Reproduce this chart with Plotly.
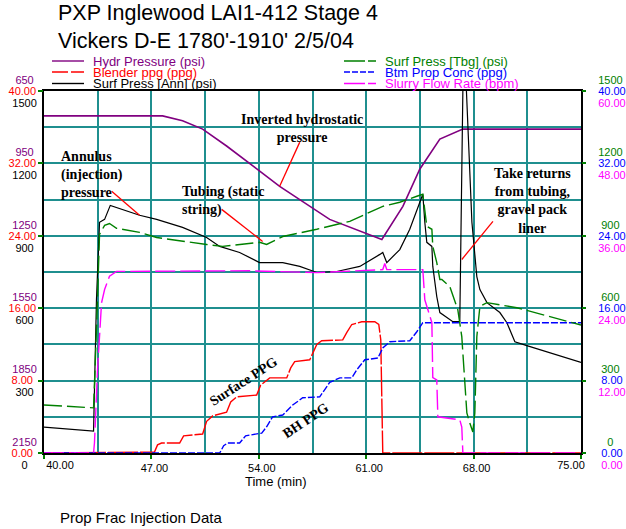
import plotly.graph_objects as go

# ---------------- data ----------------
hydr_t = [40.0, 47.73, 49.03, 50.34, 51.90, 53.21, 54.06, 55.36, 58.62, 62.02, 63.39, 64.49, 65.80, 67.30, 75.0]
hydr_psi = [753, 753, 773, 808, 878, 941, 982, 1045, 1182, 1265, 1128, 974, 849, 808, 808]

blender_t = [40.0, 47.2, 47.40, 47.66, 48.84, 49.10, 50.34, 50.60, 50.99, 51.90, 52.17, 52.56, 53.86, 54.12,
             54.71, 55.82, 56.08, 56.34, 57.32, 57.78, 58.10, 59.47, 59.73, 60.06, 60.71, 61.56, 61.82,
             61.95, 62.08, 75.0]
blender_ppg = [0, 0.1, 0.9, 1.1, 1.1, 1.9, 2.1, 3.5, 4.1, 4.5, 5.65, 6.2, 6.4, 7.5,
               8.3, 8.3, 9.4, 10.1, 10.3, 12.0, 12.4, 12.5, 13.3, 14.2, 14.5, 14.5, 14.2,
               12.5, 0, 0]

ann_t = [40.0, 43.23, 43.42, 43.62, 43.95, 44.32, 46.23, 47.34, 49.03, 50.60, 51.45, 52.75, 54.05, 55.56,
         56.67, 57.78, 59.08, 60.58, 61.89, 62.08, 62.34, 63.19, 63.84, 64.69, 64.82, 64.95, 65.28,
         65.34, 65.60, 65.80, 66.65, 67.10, 67.30, 67.40, 67.50, 67.89, 68.21, 68.41, 68.87, 69.71,
         70.17, 70.69, 71.47, 72.97, 75.0]
ann_psi = [107, 91, 636, 956, 968, 1026, 985, 968, 935, 893, 856, 831, 789, 789,
           773, 748, 752, 773, 823, 831, 789, 843, 927, 1072, 956, 873, 856,
           773, 648, 582, 544, 544, 1500, 1620, 1550, 956, 731, 677, 623, 582,
           540, 461, 445, 416, 375]

tbg_t = [40.0, 43.23, 43.42, 43.62, 43.95, 44.27, 44.73, 46.23, 47.34, 49.03, 50.60, 51.64, 52.75, 54.05,
         54.51, 55.56, 57.78, 59.93, 62.08, 63.19, 64.30, 64.69, 64.95, 65.28, 65.34, 65.60, 65.80,
         65.93, 66.45, 66.97, 67.23, 67.43, 67.56, 67.75, 67.95, 68.08, 68.21, 68.41, 68.87, 70.82,
         72.97, 75.0]
tbg_psi = [199, 187, 511, 906, 943, 951, 931, 914, 893, 877, 864, 856, 864, 873,
           864, 897, 927, 960, 1022, 1039, 1064, 1072, 939, 927, 856, 789, 719,
           719, 690, 594, 482, 274, 166, 125, 87, 166, 482, 607, 623, 602,
           565, 530]

btm_t = [40.0, 51.45, 51.71, 51.97, 52.75, 53.14, 54.19, 54.51, 54.90, 55.56, 56.21, 56.86, 57.97, 58.62,
         59.28, 60.06, 60.39, 60.91, 61.76, 62.08, 62.54, 63.84, 64.30, 64.69, 75.0]
btm_ppg = [0, 0, 0.8, 1.1, 1.1, 1.9, 2.2, 2.9, 4.0, 4.2, 5.3, 6.1, 6.2, 7.8,
           8.3, 8.3, 9.2, 10.3, 10.5, 11.6, 12.3, 12.4, 13.4, 14.4, 14.4]

slurry_t = [40.0, 43.23, 43.29, 43.49, 43.75, 43.95, 44.27, 44.73, 53.40, 57.78, 62.08, 62.21, 62.34, 64.69,
            64.82, 65.28, 65.34, 65.60, 65.67, 67.10, 67.23, 67.30, 75.0]
slurry_bpm = [0, 0, 1.7, 13.8, 24.9, 27.1, 29.3, 30.1, 30.2, 29.9, 30.4, 31.4, 30.4, 30.4,
              25.4, 21.6, 12.5, 12.1, 6.0, 5.5, 4.3, 0, 0]

x_ticks = [40, 47, 54, 61, 68, 75]
ppg_ticks = [0, 8, 16, 24, 32, 40]
hydr_ticks = [650, 950, 1250, 1550, 1850, 2150]
psi_ticks = [0, 300, 600, 900, 1200, 1500]
slurry_ticks = [0, 12, 24, 36, 48, 60]

title_lines = ["PXP Inglewood LAI1-412 Stage 4", "Vickers D-E 1780'-1910' 2/5/04"]
series_names = ["Hydr Pressure (psi)", "Blender ppg (ppg)", "Surf Press [Ann] (psi)",
                "Surf Press [Tbg] (psi)", "Btm Prop Conc (ppg)", "Slurry Flow Rate (bpm)"]

# ---------------- style ----------------
PURPLE, RED, BLACK = "#800080", "#FF0000", "#000000"
GREEN, BLUE, MAGENTA = "#008000", "#0000FF", "#FF00FF"
GRID = "#1F8F8F"
SANS = "Arial, Liberation Sans, sans-serif"
SERIF = "Times New Roman, Liberation Serif, serif"

W, H = 626, 529
ML, MR, MT, MB = 44, 45, 91, 76
PW, PH = W - ML - MR, H - MT - MB
NB = "\u00a0"


def px_x(px):
    return (px - ML) / PW


def px_y(py):
    return (H - MB - py) / PH


def em_w(s):
    return sum(0.278 if c == "." else 0.556 for c in s)


def pad(s, side):
    n = int(round((2.502 - em_w(s)) / 2 / 0.278))
    return s + NB * n if side == "left" else NB * n + s


def fmt2(v):
    return f"{v:.2f}"


fig = go.Figure()

# all time axes (x, x2, x3) share the same 40-75 min range; x2/x3 only carry the end labels
traces = [
    (hydr_t, hydr_psi, "x", "y2", PURPLE, "solid", 1.6, series_names[0]),
    (blender_t, blender_ppg, "x", "y", RED, "30px,2px", 1.4, series_names[1]),
    (ann_t, ann_psi, "x", "y3", BLACK, "solid", 1.2, series_names[2]),
    (tbg_t, tbg_psi, "x3", "y4", GREEN, "18px,5px", 1.4, series_names[3]),
    (btm_t, btm_ppg, "x", "y5", BLUE, "7px,2px", 1.4, series_names[4]),
    (slurry_t, slurry_bpm, "x2", "y6", MAGENTA, "20px,5px", 1.4, series_names[5]),
]
for xs, ys, xa, ya, col, dash, wd, nm in traces:
    fig.add_trace(go.Scatter(x=xs, y=ys, xaxis=xa, yaxis=ya, mode="lines", name=nm, showlegend=False,
                             line=dict(color=col, dash=dash, width=wd)))

tickbase = dict(ticks="outside", ticklen=4, tickcolor=GREEN, tickwidth=1.5,
                showgrid=False, zeroline=False, automargin=False)

# end labels of the time axis sit inside the plot width, as in the reference
x_text = [fmt2(v) for v in x_ticks]
x_mid_text = ["" if i in (0, len(x_ticks) - 1) else t for i, t in enumerate(x_text)]
xend = dict(overlaying="x", anchor="y", side="bottom", range=[40, 75], ticks="", showgrid=False,
            zeroline=False, showline=False, automargin=False, tickfont=dict(size=11, color=BLACK))

fig.update_layout(
    width=W, height=H, margin=dict(l=ML, r=MR, t=MT, b=MB, pad=0),
    paper_bgcolor="white", plot_bgcolor="white",
    font=dict(family=SANS, size=11, color=BLACK),
    showlegend=False,
    title=dict(text="<br>".join(title_lines), font=dict(family=SANS, size=21.5, color=BLACK),
               x=58 / W, xref="container", xanchor="left", y=1 - 20 / H, yref="container", yanchor="top",
               pad=dict(t=0, b=0, l=0, r=0)),
    xaxis=dict(range=[40, 75], tickvals=x_ticks, ticktext=x_mid_text, ticklabelshift=3,
               ticks="outside", ticklen=4, tickcolor=GREEN, tickwidth=1.5,
               tickfont=dict(size=11, color=BLACK),
               showgrid=True, gridcolor=GRID, gridwidth=1.6,
               minor=dict(dtick=3.5, tick0=40, showgrid=True, gridcolor=GRID, gridwidth=1.6),
               showline=True, mirror=True, linecolor=BLACK, linewidth=1.5, zeroline=False,
               automargin=False),
    xaxis2=dict(tickvals=[x_ticks[0]], ticktext=[x_text[0]], ticklabelshift=16, ticklabelstandoff=4, **xend),
    xaxis3=dict(tickvals=[x_ticks[-1]], ticktext=[x_text[-1]], ticklabelshift=-10, ticklabelstandoff=4, **xend),
    yaxis=dict(range=[0, 40], tickvals=ppg_ticks, ticktext=[pad(fmt2(v), "left") for v in ppg_ticks],
               tickfont=dict(size=11, color=RED),
               ticks="outside", ticklen=4, tickcolor=GREEN, tickwidth=1.5,
               showgrid=True, gridcolor=GRID, gridwidth=1.6,
               minor=dict(dtick=4, tick0=0, showgrid=True, gridcolor=GRID, gridwidth=1.6),
               showline=True, mirror=True, linecolor=BLACK, linewidth=1.5, zeroline=False,
               automargin=False),
    yaxis2=dict(overlaying="y", side="left", anchor="x", range=[2150, 650], tickvals=hydr_ticks,
                ticktext=[pad(str(v), "left") for v in hydr_ticks],
                tickfont=dict(size=11, color=PURPLE), ticklabelshift=11, **tickbase),
    yaxis3=dict(overlaying="y", side="left", anchor="x", range=[0, 1500], tickvals=psi_ticks,
                ticktext=[pad(str(v), "left") for v in psi_ticks],
                tickfont=dict(size=11, color=BLACK), ticklabelshift=12, **tickbase),
    yaxis4=dict(overlaying="y", side="right", anchor="x", range=[0, 1500], tickvals=psi_ticks,
                ticktext=[pad(str(v), "right") for v in psi_ticks],
                tickfont=dict(size=11, color=GREEN), ticklabelshift=-11, ticklabelstandoff=10, **tickbase),
    yaxis5=dict(overlaying="y", side="right", anchor="x", range=[0, 40], tickvals=ppg_ticks,
                ticktext=[pad(fmt2(v), "right") for v in ppg_ticks],
                tickfont=dict(size=11, color=BLUE), ticklabelstandoff=10, **tickbase),
    yaxis6=dict(overlaying="y", side="right", anchor="x", range=[0, 60], tickvals=slurry_ticks,
                ticktext=[pad(fmt2(v), "right") for v in slurry_ticks],
                tickfont=dict(size=11, color=MAGENTA), ticklabelshift=12, ticklabelstandoff=10, **tickbase),
)

ann = []
shapes = []

# chart notes (data coordinates: minutes, blender ppg axis)
notes = [
    ("<b>Inverted hydrostatic<br>pressure</b>", 56.8, 35.9, "center", "center", 0),
    ("<b>Annulus<br>(injection)<br>pressure</b>", 40.95, 30.8, "left", "left", 0),
    ("<b>Tubing (static<br>string)</b>", 48.85, 27.9, "left", "left", 0),
    ("<b>Take returns<br>from tubing,<br>gravel pack<br>liner</b>", 71.87, 27.9, "center", "center", 0),
    ("<b>Surface PPG</b>", 53.0, 7.85, "center", "center", -33),
    ("<b>BH PPG</b>", 57.07, 3.55, "center", "center", -34),
]
for txt, x, y, xa, al, ang in notes:
    ann.append(dict(text=txt, x=x, y=y, xref="x", yref="y", xanchor=xa, yanchor="middle", align=al,
                    textangle=ang, showarrow=False, font=dict(family=SERIF, size=14, color=BLACK)))

pointers = [
    (56.67, 34.35, 55.36, 29.47),
    (44.41, 28.92, 46.23, 26.26),
    (51.58, 26.92, 54.25, 23.38),
    (69.26, 25.59, 67.23, 21.38),
]
for x0, y0, x1, y1 in pointers:
    shapes.append(dict(type="line", xref="x", yref="y", x0=x0, y0=y0, x1=x1, y1=y1,
                       line=dict(color=RED, width=1.3), layer="above"))

# legend block
leg_cols = [(52, 84, 91), (344, 376, 383)]
leg_rows = [61, 72, 83.5]
leg_style = [(PURPLE, "solid"), (RED, "16px,3px"), (BLACK, "solid"),
             (GREEN, "21px,3px"), (BLUE, "6px,2px"), (MAGENTA, "21px,3px")]
for i, nm in enumerate(series_names):
    c = i // 3
    r = i % 3
    x0, x1, xt = leg_cols[c]
    yy = leg_rows[r]
    col, dash = leg_style[i]
    shapes.append(dict(type="line", xref="paper", yref="paper", x0=px_x(x0), x1=px_x(x1),
                       y0=px_y(yy), y1=px_y(yy), line=dict(color=col, width=1.4, dash=dash)))
    ann.append(dict(text=nm, x=px_x(xt), y=px_y(yy), xref="paper", yref="paper", xanchor="left",
                    yanchor="middle", showarrow=False, font=dict(family=SANS, size=13, color=col)))

ann.append(dict(text="Time (min)", x=px_x(276), y=px_y(481), xref="paper", yref="paper",
                xanchor="center", yanchor="middle", showarrow=False,
                font=dict(family=SANS, size=13, color=BLACK)))
ann.append(dict(text="Prop Frac Injection Data", x=px_x(58), y=px_y(517), xref="paper", yref="paper",
                xanchor="left", yanchor="middle", showarrow=False,
                font=dict(family=SANS, size=15, color=BLACK)))

fig.update_layout(annotations=ann, shapes=shapes)
fig.write_html("out.html", config={"displayModeBar": False},
               post_script="document.body.style.margin='0';document.body.style.overflow='hidden';")
